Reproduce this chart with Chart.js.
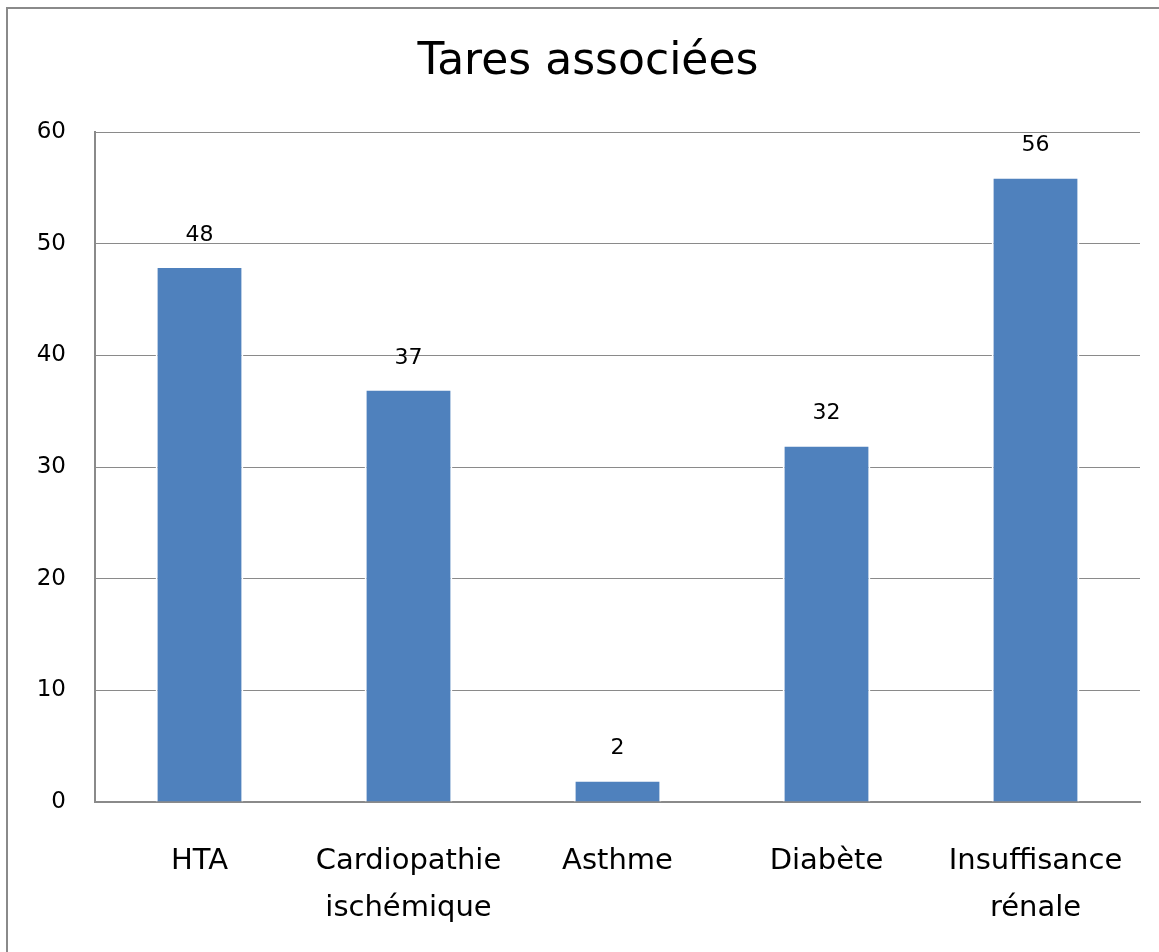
<!DOCTYPE html>
<html>
<head>
<meta charset="utf-8">
<script src="https://cdn.jsdelivr.net/npm/chart.js@4/dist/chart.umd.min.js"></script>
<style>
  html, body { margin: 0; padding: 0; background: #fff; overflow: hidden; }
  #wrap { position: relative; width: 1159px; height: 952px; }
  #frame { position: absolute; left: 6px; top: 7px; width: 1200px; height: 1000px; border: 2px solid #8a8a8a; box-sizing: border-box; pointer-events: none; }
</style>
</head>
<body>
<div id="wrap">
  <canvas id="taresChart"></canvas>
  <div id="frame"></div>
</div>
<script>
// donnees du graphique
const categories = ['HTA', ['Cardiopathie', 'ischémique'], 'Asthme', 'Diabète', ['Insuffisance', 'rénale']];
const effectifs = [48, 37, 2, 32, 56];
const yTicks = [0, 10, 20, 30, 40, 50, 60];
const titre = 'Tares associées';

const police = "'DejaVu Sans', Verdana, sans-serif";

// titre centre sur le cadre (un peu a droite du canvas)
const titrePlugin = {
    id: 'titre',
    afterDraw(chart) {
        const ctx = chart.ctx;
        ctx.save();
        ctx.font = '44px ' + police;
        ctx.fillStyle = '#000';
        ctx.textAlign = 'center';
        ctx.textBaseline = 'middle';
        ctx.fillText(titre, 588, 63);
        ctx.restore();
    }
};

// etiquettes de valeur au-dessus des barres
const valeursPlugin = {
    id: 'valeurs',
    afterDatasetsDraw(chart) {
        const ctx = chart.ctx;
        const meta = chart.getDatasetMeta(0);
        ctx.save();
        ctx.font = '22px ' + police;
        ctx.fillStyle = '#000';
        ctx.textAlign = 'center';
        ctx.textBaseline = 'middle';
        meta.data.forEach(function (bar, i) {
            ctx.fillText(String(effectifs[i]), bar.x, bar.y - 31);
        });
        ctx.restore();
    }
};

const ctx = document.getElementById('taresChart').getContext('2d');
new Chart(ctx, {
    type: 'bar',
    data: {
        labels: categories,
        datasets: [{
            data: effectifs,
            backgroundColor: '#4f81bd',
            borderColor: '#ffffff',
            borderWidth: 2,
            borderSkipped: 'bottom',
            categoryPercentage: 0.42,
            barPercentage: 1
        }]
    },
    options: {
        responsive: true,
        maintainAspectRatio: false,
        animation: false,
        layout: { padding: { left: 0, right: 19, top: 132, bottom: 0 } },
        plugins: {
            legend: { display: false },
            tooltip: { enabled: false },
            title: { display: false }
        },
        scales: {
            x: {
                grid: { display: false },
                border: { color: '#8a8a8a', width: 2 },
                ticks: {
                    color: '#000',
                    font: { family: police, size: 29, lineHeight: '47px' },
                    padding: 28,
                    maxRotation: 0,
                    autoSkip: false
                },
                afterFit(scale) { scale.height = 150; }
            },
            y: {
                min: 0,
                max: 60,
                afterBuildTicks(scale) { scale.ticks = yTicks.map(v => ({ value: v })); },
                grid: { color: '#8a8a8a', lineWidth: 1, drawTicks: false },
                border: { color: '#8a8a8a', width: 2 },
                ticks: {
                    color: '#000',
                    font: { family: police, size: 23 },
                    padding: 29
                },
                afterFit(scale) { scale.width = 95; }
            }
        }
    },
    plugins: [valeursPlugin, titrePlugin]
});
</script>
</body>
</html>
